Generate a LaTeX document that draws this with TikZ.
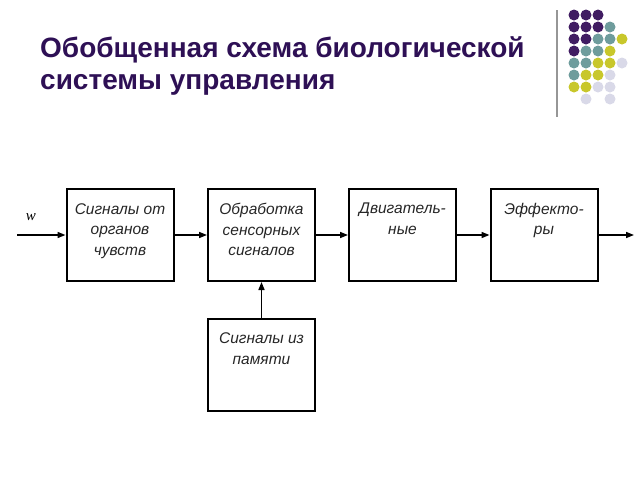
\documentclass[tikz,border=0pt]{standalone}
\usepackage{fontspec}
\setmainfont{Liberation Sans}
\newfontfamily\serifw{Liberation Serif}
\usetikzlibrary{arrows.meta}
\definecolor{titlec}{RGB}{46,16,85}
\definecolor{dpur}{RGB}{64,28,98}
\definecolor{dteal}{RGB}{110,156,156}
\definecolor{dyel}{RGB}{200,199,43}
\definecolor{dlav}{RGB}{217,217,232}
\definecolor{vgray}{RGB}{150,150,150}
\tikzset{
  blk/.style={draw=black, line width=2pt, minimum width=107pt, minimum height=92pt, inner sep=0pt},
  lbl/.style={anchor=north, align=center, font=\fontsize{15.5}{20.5}\selectfont\itshape, inner sep=0pt, text=black!85},
  conn/.style={line width=1.5pt, -{Triangle[length=8pt,width=6pt]}},
}
\begin{document}
\begin{tikzpicture}[x=1pt,y=-1pt]
\useasboundingbox (0,0) rectangle (640,480);
% title
\node[anchor=base west, inner sep=0pt, text=titlec, font=\fontsize{28}{34}\selectfont\bfseries] (t1) at (40,57) {Обобщенная схема биологической};
\node[anchor=base west, inner sep=0pt, text=titlec, font=\fontsize{28}{34}\selectfont\bfseries] (t2) at (40,89) {системы управления};
% decoration
\draw[vgray, line width=2pt] (557,10) -- (557,117);
\foreach \c/\x/\y in {dpur/574/15,dpur/586/15,dpur/598/15,
  dpur/574/27,dpur/586/27,dpur/598/27,dteal/610/27,
  dpur/574/39,dpur/586/39,dteal/598/39,dteal/610/39,dyel/622/39,
  dpur/574/51,dteal/586/51,dteal/598/51,dyel/610/51,
  dteal/574/63,dteal/586/63,dyel/598/63,dyel/610/63,dlav/622/63,
  dteal/574/75,dyel/586/75,dyel/598/75,dlav/610/75,
  dyel/574/87,dyel/586/87,dlav/598/87,dlav/610/87,
  dlav/586/99,dlav/610/99}
  \fill[\c] (\x,\y) circle (5.5pt);
% boxes
\node[blk] (b1) at (120,235) {};
\node[blk] (b2) at (261.5,235) {};
\node[blk] (b3) at (402.5,235) {};
\node[blk] (b4) at (544,235) {};
\node[blk] (b5) at (261.5,364.5) {};
\node[lbl] (l1) at ([yshift=-15pt]b1.north) {Сигналы от\\органов\\чувств};
\node[lbl] (l2) at ([yshift=-15pt]b2.north) {Обработка\\сенсорных\\сигналов};
\node[lbl] (l3) at ([yshift=-15pt]b3.north) {Двигатель-\\ные};
\node[lbl] (l4) at ([yshift=-15pt]b4.north) {Эффекто-\\ры};
\node[lbl] (l5) at ([yshift=-15pt]b5.north) {Сигналы из\\памяти};
% connectors
\coordinate (in) at (17,235);
\coordinate (out) at (634,235);
\node[inner sep=0pt, font=\serifw\itshape\fontsize{15}{15}\selectfont] (w) at (31,217) {w};
\draw[conn] (in) -- (b1.west);
\draw[conn] (b1.east) -- (b2.west);
\draw[conn] (b2.east) -- (b3.west);
\draw[conn] (b3.east) -- (b4.west);
\draw[conn] (b4.east) -- (out);
\draw[conn] (b5.north) -- (b2.south);
\end{tikzpicture}
\end{document}
